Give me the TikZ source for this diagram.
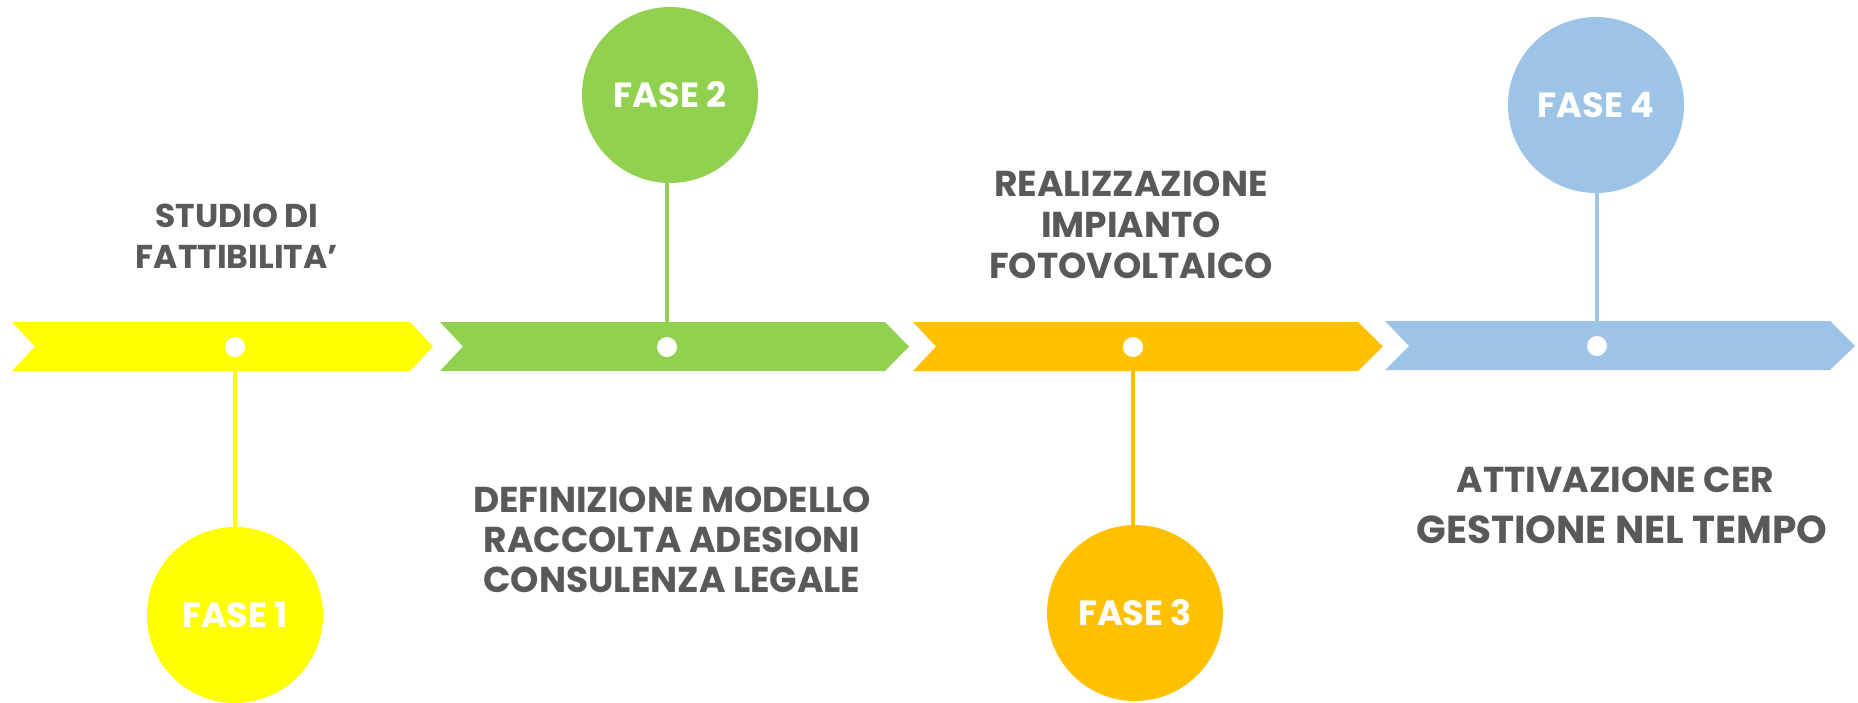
\documentclass[tikz,border=0pt]{standalone}
\usepackage{fontspec}
\setmainfont{Poppins}[BoldFont={* Bold}]
\definecolor{cyel}{HTML}{FFFF00}
\definecolor{cgrn}{HTML}{92D050}
\definecolor{corg}{HTML}{FFC000}
\definecolor{cblu}{HTML}{9DC3E6}
\definecolor{ctxt}{HTML}{595959}
\begin{document}
\begin{tikzpicture}[x=1pt,y=-1pt,
  phase/.style={circle, minimum size=176pt, inner sep=0pt, text=white,
    font=\bfseries\fontsize{35}{40}\selectfont},
  dotnode/.style={circle, fill=white, minimum size=20pt, inner sep=0pt},
  link/.style={line width=3.5pt},
  label/.style={align=center, text=ctxt, font=\bfseries\fontsize{36}{40}\selectfont}]
\useasboundingbox (0,0) rectangle (1858,702);
% arrows
\fill[cyel] (12,322) -- (410,322) -- (433,346.5) -- (410,371) -- (12,371) -- (35,346.5) -- cycle;
\fill[cgrn] (440,322) -- (885,322) -- (909,346.5) -- (885,371) -- (440,371) -- (463,346.5) -- cycle;
\fill[corg] (913,322) -- (1358,322) -- (1383,346.5) -- (1358,371) -- (913,371) -- (936,346.5) -- cycle;
\fill[cblu] (1385,321) -- (1830,321) -- (1855,346) -- (1830,370) -- (1385,370) -- (1409,346) -- cycle;
% dots
\node[dotnode] (d1) at (235,347) {};
\node[dotnode] (d2) at (667,347) {};
\node[dotnode] (d3) at (1133,347) {};
\node[dotnode] (d4) at (1597,346) {};
% circles
\node[phase, fill=cyel] (c1) at (235,615) {FASE 1};
\node[phase, fill=cgrn] (c2) at (670,95) {FASE 2};
\node[phase, fill=corg] (c3) at (1135,613) {FASE 3};
\node[phase, fill=cblu] (c4) at (1596,105) {FASE 4};
% links
\draw[link, cyel] (d1.south) -- (c1.north);
\draw[link, cgrn] (d2.north) -- (c2.south -| d2);
\draw[link, corg] (d3.south) -- (c3.north -| d3);
\draw[link, cblu] (d4.north) -- (c4.south -| d4);
% labels
\node[label, font=\bfseries\fontsize{33}{41}\selectfont] (l1) at (237,236) {STUDIO DI\\FATTIBILITA’};
\node[label] (l2) at (672,540) {DEFINIZIONE MODELLO\\RACCOLTA ADESIONI\\CONSULENZA LEGALE};
\node[label, font=\bfseries\fontsize{36}{41}\selectfont] (l3) at (1131,225) {REALIZZAZIONE\\IMPIANTO\\FOTOVOLTAICO};
\node[label, anchor=west] (l4a) at (1453,480) {ATTIVAZIONE CER};
\node[label, anchor=west, font=\bfseries\fontsize{39}{40}\selectfont] (l4b) at (1413,530) {GESTIONE NEL TEMPO};
\end{tikzpicture}
\end{document}
